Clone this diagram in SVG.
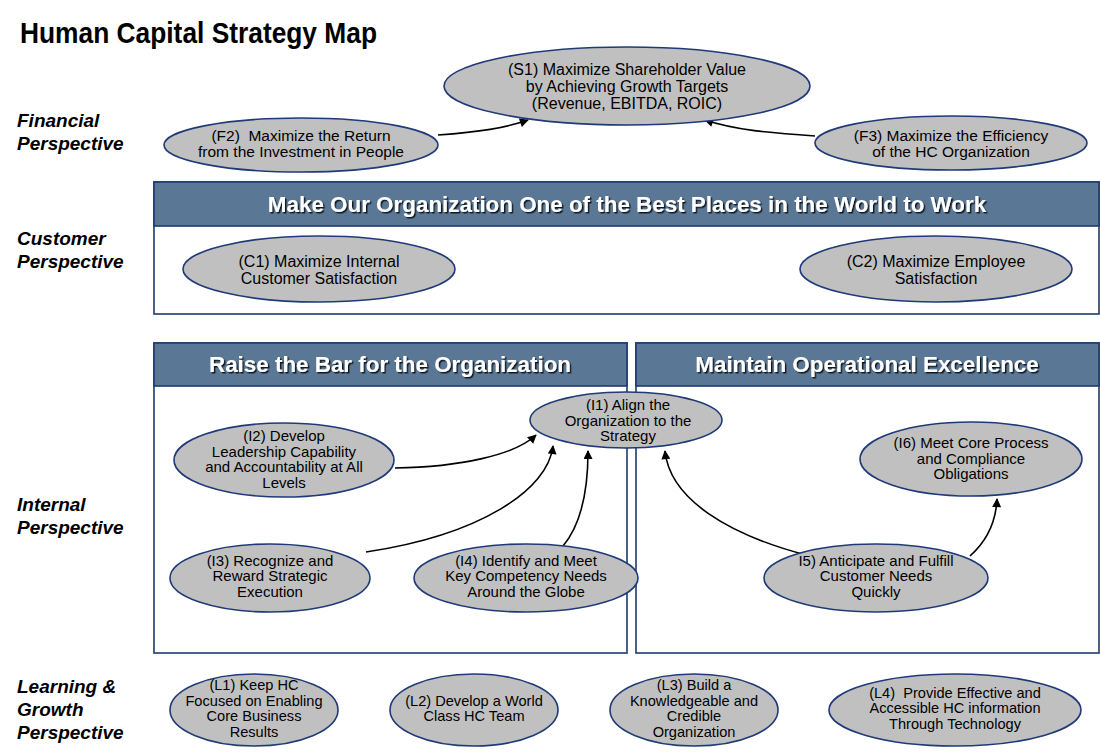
<svg xmlns="http://www.w3.org/2000/svg" width="1100" height="756" viewBox="0 0 1100 756">
<style>
.node ellipse{fill:#c0c0c0;stroke:#1f3a78;stroke-width:1.6}
.t{font-family:"Liberation Sans",Arial,sans-serif;font-size:15px;fill:#000;text-anchor:middle}
.big .t{font-size:16px}
.fin .t{font-size:15.5px}
.lg .t{font-size:14.6px}
.persp{font-family:"Liberation Sans",Arial,sans-serif;font-size:19px;font-weight:bold;font-style:italic;fill:#000}
.box{fill:#fff;stroke:#1f3a6e;stroke-width:1.6}
.hdr{fill:#5a7896;stroke:#1f3a6e;stroke-width:1.6}
.ht{font-family:"Liberation Sans",Arial,sans-serif;font-size:22.4px;font-weight:bold;fill:#fff;text-anchor:middle}
.conn path{fill:none;stroke:#000;stroke-width:1.6;marker-end:url(#arr)}
</style>
<defs>
<marker id="arr" viewBox="0 0 10 10" refX="9" refY="5" markerWidth="10" markerHeight="9" markerUnits="userSpaceOnUse" orient="auto"><path d="M0,0 L10,5 L0,10 z" fill="#000"/></marker>
<filter id="sh" x="-5%" y="-30%" width="110%" height="160%"><feDropShadow dx="1.5" dy="1.5" stdDeviation="0.6" flood-color="#000" flood-opacity="0.8"/></filter>
</defs>
<rect width="1100" height="756" fill="#fff"/>
<text x="20" y="43" font-family="'Liberation Sans',Arial,sans-serif" font-size="30" font-weight="bold" textLength="357" lengthAdjust="spacingAndGlyphs">Human Capital Strategy Map</text>

<g id="labels">
<text class="persp" x="17" y="127">Financial</text>
<text class="persp" x="17" y="150">Perspective</text>
<text class="persp" x="17" y="245">Customer</text>
<text class="persp" x="17" y="268">Perspective</text>
<text class="persp" x="17" y="511">Internal</text>
<text class="persp" x="17" y="534">Perspective</text>
<text class="persp" x="17" y="693">Learning &amp;</text>
<text class="persp" x="17" y="716">Growth</text>
<text class="persp" x="17" y="739">Perspective</text>
</g>

<g id="customer-box">
<rect class="box" x="154" y="182" width="945" height="132"/>
<rect class="hdr" x="154" y="182" width="945" height="44"/>
<text class="ht" x="627" y="212" filter="url(#sh)">Make Our Organization One of the Best Places in the World to Work</text>
</g>
<g id="raise-box">
<rect class="box" x="154" y="343" width="473" height="310"/>
<rect class="hdr" x="154" y="343" width="473" height="43"/>
<text class="ht" x="390" y="372" filter="url(#sh)">Raise the Bar for the Organization</text>
</g>
<g id="maintain-box">
<rect class="box" x="636" y="343" width="463" height="310"/>
<rect class="hdr" x="636" y="343" width="463" height="43"/>
<text class="ht" x="867" y="372" filter="url(#sh)">Maintain Operational Excellence</text>
</g>

<g id="connectors" class="conn">
<path d="M438,135 C480,132 505,128 528,120"/>
<path d="M815,136 C770,133 735,130 705,120"/>
<path d="M395,468 C460,467 515,455 536,435"/>
<path d="M366,552 C480,535 548,490 553,446"/>
<path d="M563,546 C585,520 588,480 588,451"/>
<path d="M806,555 C730,535 670,500 665,451"/>
<path d="M970,556 C988,540 996,520 997,499"/>
</g>

<g id="S1" class="node big"><ellipse cx="627" cy="86" rx="183" ry="39"/>
<text class="t" x="627" y="75">(S1) Maximize Shareholder Value</text>
<text class="t" x="627" y="92">by Achieving Growth Targets</text>
<text class="t" x="627" y="109">(Revenue, EBITDA, ROIC)</text></g>
<g id="F2" class="node fin"><ellipse cx="301" cy="145" rx="137" ry="27"/>
<text class="t" x="301" y="141" xml:space="preserve">(F2)  Maximize the Return</text>
<text class="t" x="301" y="157">from the Investment in People</text></g>
<g id="F3" class="node fin"><ellipse cx="951" cy="143" rx="136" ry="27"/>
<text class="t" x="951" y="141">(F3) Maximize the Efficiency</text>
<text class="t" x="951" y="157">of the HC Organization</text></g>

<g id="C1" class="node big"><ellipse cx="319" cy="269" rx="136" ry="33"/>
<text class="t" x="319" y="267">(C1) Maximize Internal</text>
<text class="t" x="319" y="284">Customer Satisfaction</text></g>
<g id="C2" class="node big"><ellipse cx="936" cy="269" rx="136" ry="33"/>
<text class="t" x="936" y="267">(C2) Maximize Employee</text>
<text class="t" x="936" y="284">Satisfaction</text></g>

<g id="I1" class="node"><ellipse cx="626" cy="420" rx="96" ry="28"/>
<text class="t" x="628" y="410">(I1) Align the</text>
<text class="t" x="628" y="426">Organization to the</text>
<text class="t" x="628" y="441">Strategy</text></g>
<g id="I2" class="node"><ellipse cx="284" cy="460" rx="110" ry="37"/>
<text class="t" x="284" y="441">(I2) Develop</text>
<text class="t" x="284" y="457">Leadership Capability</text>
<text class="t" x="284" y="472">and Accountability at All</text>
<text class="t" x="284" y="488">Levels</text></g>
<g id="I3" class="node"><ellipse cx="270" cy="578" rx="100" ry="34"/>
<text class="t" x="270" y="566">(I3) Recognize and</text>
<text class="t" x="270" y="581">Reward Strategic</text>
<text class="t" x="270" y="597">Execution</text></g>
<g id="I4" class="node"><ellipse cx="526" cy="578" rx="112" ry="34"/>
<text class="t" x="526" y="566">(I4) Identify and Meet</text>
<text class="t" x="526" y="581">Key Competency Needs</text>
<text class="t" x="526" y="597">Around the Globe</text></g>
<g id="I5" class="node"><ellipse cx="876" cy="578" rx="112" ry="34"/>
<text class="t" x="876" y="566">I5) Anticipate and Fulfill</text>
<text class="t" x="876" y="581">Customer Needs</text>
<text class="t" x="876" y="597">Quickly</text></g>
<g id="I6" class="node"><ellipse cx="971" cy="459" rx="111" ry="37"/>
<text class="t" x="971" y="448">(I6) Meet Core Process</text>
<text class="t" x="971" y="464">and Compliance</text>
<text class="t" x="971" y="479">Obligations</text></g>

<g id="L1" class="node lg"><ellipse cx="254" cy="710" rx="84" ry="36"/>
<text class="t" x="254" y="690">(L1) Keep HC</text>
<text class="t" x="254" y="706">Focused on Enabling</text>
<text class="t" x="254" y="721">Core Business</text>
<text class="t" x="254" y="737">Results</text></g>
<g id="L2" class="node lg"><ellipse cx="474" cy="710" rx="84" ry="36"/>
<text class="t" x="474" y="706">(L2) Develop a World</text>
<text class="t" x="474" y="721">Class HC Team</text></g>
<g id="L3" class="node lg"><ellipse cx="694" cy="710" rx="84" ry="36"/>
<text class="t" x="694" y="690">(L3) Build a</text>
<text class="t" x="694" y="706">Knowledgeable and</text>
<text class="t" x="694" y="721">Credible</text>
<text class="t" x="694" y="737">Organization</text></g>
<g id="L4" class="node lg"><ellipse cx="955" cy="710" rx="126" ry="36"/>
<text class="t" x="955" y="698" xml:space="preserve">(L4)  Provide Effective and</text>
<text class="t" x="955" y="713">Accessible HC information</text>
<text class="t" x="955" y="729">Through Technology</text></g>
</svg>
